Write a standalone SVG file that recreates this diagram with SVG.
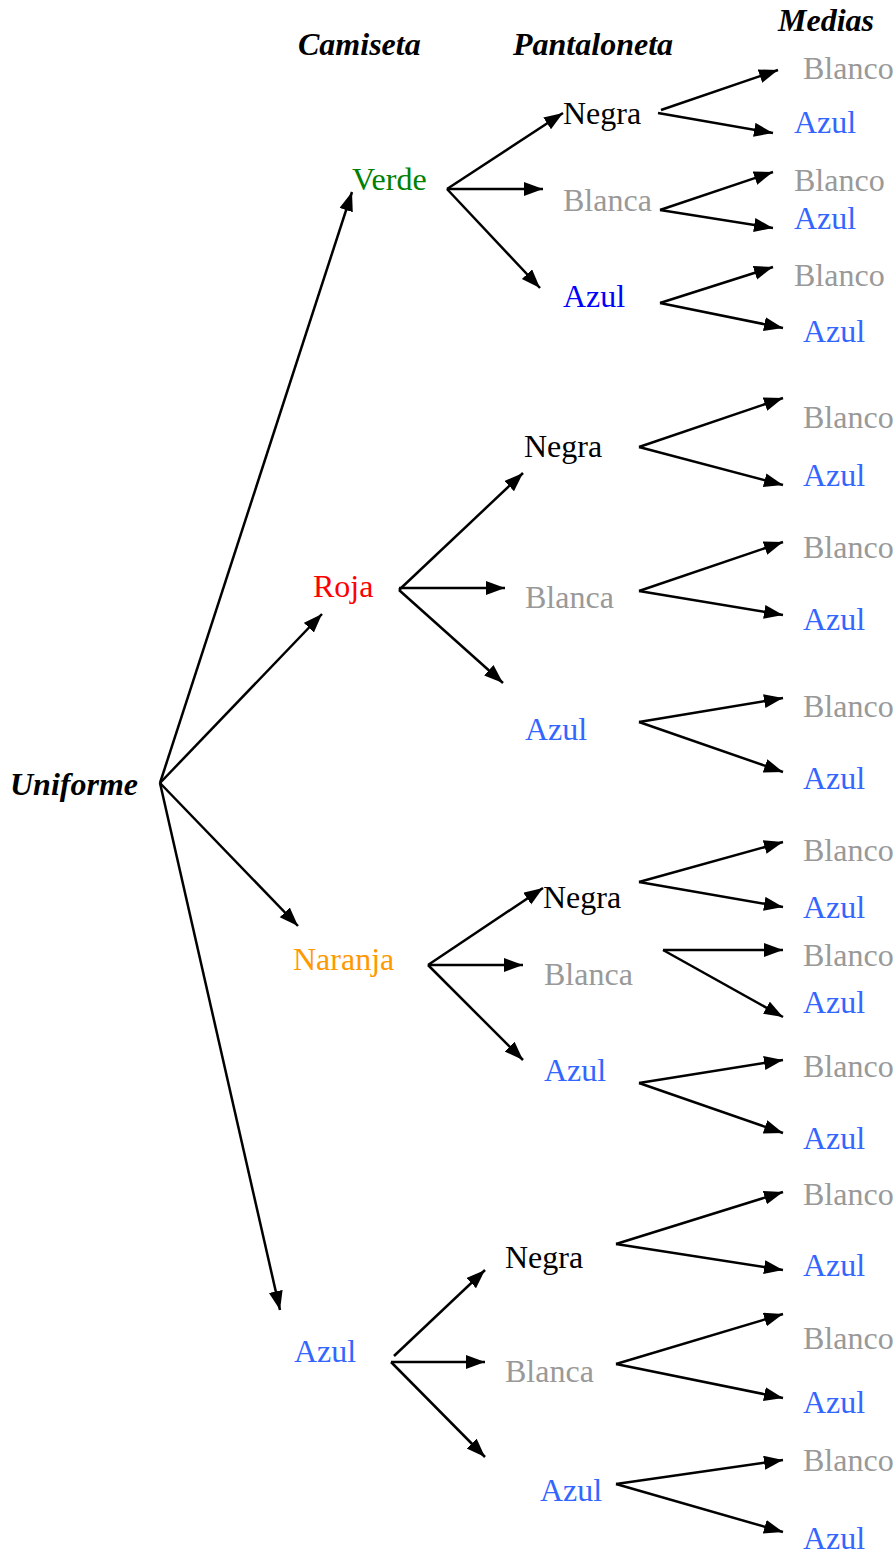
<svg xmlns="http://www.w3.org/2000/svg" width="896" height="1558" viewBox="0 0 896 1558">
<style>
text{font-family:"Liberation Serif","Times New Roman",serif;font-size:32px}
.h{font-weight:bold;font-style:italic;fill:#000}
.k{fill:#000}.g{fill:#999999}.b{fill:#3366FF}.pb{fill:#0000FF}
.gr{fill:#008000}.r{fill:#FF0000}.o{fill:#FF9900}
#connectors line{stroke:#000;stroke-width:2.5;marker-end:url(#ah)}
</style>
<defs>
<marker id="ah" markerUnits="userSpaceOnUse" markerWidth="22" markerHeight="16" refX="19" refY="7" orient="auto">
<path d="M0,0 L19,7 L0,14 z" fill="#000"/>
</marker>
</defs>
<rect width="896" height="1558" fill="#fff"/>
<g id="headers">
<text class="h" x="298" y="55">Camiseta</text>
<text class="h" x="513" y="55">Pantaloneta</text>
<text class="h" x="778" y="31">Medias</text>
</g>
<g id="connectors">
<line x1="160" y1="783" x2="352" y2="192"/>
<line x1="160" y1="783" x2="322" y2="614"/>
<line x1="160" y1="783" x2="298" y2="926"/>
<line x1="160" y1="783" x2="280" y2="1310"/>
<line x1="447" y1="189" x2="563" y2="113"/>
<line x1="447" y1="189" x2="543" y2="189"/>
<line x1="447" y1="189" x2="540" y2="288"/>
<line x1="661" y1="110" x2="778" y2="70"/>
<line x1="658" y1="113" x2="773" y2="133"/>
<line x1="660" y1="210" x2="773" y2="172"/>
<line x1="660" y1="210" x2="773" y2="228"/>
<line x1="660" y1="303" x2="773" y2="267"/>
<line x1="660" y1="303" x2="783" y2="328"/>
<line x1="399" y1="590" x2="523" y2="473"/>
<line x1="399" y1="588" x2="505" y2="588"/>
<line x1="399" y1="590" x2="503" y2="683"/>
<line x1="639" y1="447" x2="783" y2="398"/>
<line x1="639" y1="447" x2="783" y2="485"/>
<line x1="639" y1="591" x2="783" y2="542"/>
<line x1="639" y1="591" x2="783" y2="615"/>
<line x1="639" y1="722" x2="783" y2="698"/>
<line x1="639" y1="722" x2="783" y2="772"/>
<line x1="428" y1="965" x2="543" y2="888"/>
<line x1="428" y1="965" x2="523" y2="965"/>
<line x1="428" y1="965" x2="523" y2="1060"/>
<line x1="639" y1="882" x2="783" y2="842"/>
<line x1="639" y1="882" x2="783" y2="907"/>
<line x1="663" y1="950" x2="783" y2="950"/>
<line x1="663" y1="950" x2="783" y2="1017"/>
<line x1="639" y1="1083" x2="783" y2="1060"/>
<line x1="639" y1="1083" x2="783" y2="1133"/>
<line x1="394" y1="1356" x2="485" y2="1270"/>
<line x1="391" y1="1362" x2="485" y2="1362"/>
<line x1="391" y1="1362" x2="485" y2="1457"/>
<line x1="616" y1="1244" x2="783" y2="1192"/>
<line x1="616" y1="1244" x2="783" y2="1270"/>
<line x1="616" y1="1364" x2="783" y2="1314"/>
<line x1="616" y1="1364" x2="783" y2="1398"/>
<line x1="616" y1="1484" x2="783" y2="1460"/>
<line x1="616" y1="1484" x2="783" y2="1532"/>
</g>
<g id="root"><text class="h" x="10" y="795">Uniforme</text></g>
<g id="verde"><text class="gr" x="352" y="190">Verde</text></g>
<g id="roja"><text class="r" x="313" y="597">Roja</text></g>
<g id="naranja"><text class="o" x="293" y="970">Naranja</text></g>
<g id="azul"><text class="b" x="294" y="1362">Azul</text></g>
<g id="verde-negra"><text class="k" x="563" y="124">Negra</text></g>
<g id="verde-blanca"><text class="g" x="563" y="211">Blanca</text></g>
<g id="verde-azul"><text class="pb" x="563" y="307">Azul</text></g>
<g id="roja-negra"><text class="k" x="524" y="457">Negra</text></g>
<g id="roja-blanca"><text class="g" x="525" y="608">Blanca</text></g>
<g id="roja-azul"><text class="b" x="525" y="740">Azul</text></g>
<g id="naranja-negra"><text class="k" x="543" y="908">Negra</text></g>
<g id="naranja-blanca"><text class="g" x="544" y="985">Blanca</text></g>
<g id="naranja-azul"><text class="b" x="544" y="1081">Azul</text></g>
<g id="azul-negra"><text class="k" x="505" y="1268">Negra</text></g>
<g id="azul-blanca"><text class="g" x="505" y="1382">Blanca</text></g>
<g id="azul-azul"><text class="b" x="540" y="1501">Azul</text></g>
<g id="medias-verde">
<text class="g" x="803" y="79">Blanco</text><text class="b" x="794" y="133">Azul</text>
<text class="g" x="794" y="191">Blanco</text><text class="b" x="794" y="229">Azul</text>
<text class="g" x="794" y="286">Blanco</text><text class="b" x="803" y="342">Azul</text>
</g>
<g id="medias-roja">
<text class="g" x="803" y="428">Blanco</text><text class="b" x="803" y="486">Azul</text>
<text class="g" x="803" y="558">Blanco</text><text class="b" x="803" y="630">Azul</text>
<text class="g" x="803" y="717">Blanco</text><text class="b" x="803" y="789">Azul</text>
</g>
<g id="medias-naranja">
<text class="g" x="803" y="861">Blanco</text><text class="b" x="803" y="918">Azul</text>
<text class="g" x="803" y="966">Blanco</text><text class="b" x="803" y="1013">Azul</text>
<text class="g" x="803" y="1077">Blanco</text><text class="b" x="803" y="1149">Azul</text>
</g>
<g id="medias-azul">
<text class="g" x="803" y="1205">Blanco</text><text class="b" x="803" y="1276">Azul</text>
<text class="g" x="803" y="1349">Blanco</text><text class="b" x="803" y="1413">Azul</text>
<text class="g" x="803" y="1471">Blanco</text><text class="b" x="803" y="1549">Azul</text>
</g>
</svg>
